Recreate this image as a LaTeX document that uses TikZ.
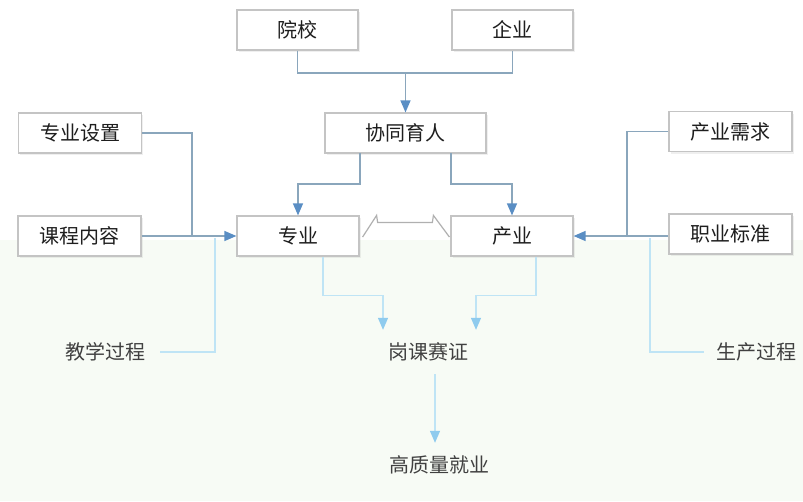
\documentclass[tikz,border=0pt]{standalone}
\usepackage{fontspec}
\newfontfamily\cjk{Noto Sans CJK SC}
\usetikzlibrary{arrows.meta,shadows}
\definecolor{boxc}{HTML}{C4C4C4}
\definecolor{linec}{HTML}{8AA6BC}
\definecolor{arrowc}{HTML}{5A8EC4}
\definecolor{lowc}{HTML}{BFE4F5}
\definecolor{lowarr}{HTML}{8FCBEE}
\definecolor{tint}{HTML}{F7FBF5}
\definecolor{txt}{HTML}{1E1E1E}
\begin{document}
\begin{tikzpicture}[x=1pt,y=-1pt,
  every node/.style={font=\cjk\fontsize{20}{24}\selectfont, text=txt, inner sep=0pt},
  box/.style={draw=boxc, fill=white, line width=1.2pt, minimum height=40pt,
    drop shadow={shadow xshift=1.5pt, shadow yshift=-2pt, opacity=0.12}},
  lbl/.style={minimum height=44pt, text=txt!85},
  conn/.style={draw=linec, line width=1.3pt},
  low/.style={draw=lowc, line width=1.3pt},
  arr/.style={-{Triangle[width=10pt,length=12pt,color=arrowc]}},
  larr/.style={-{Triangle[width=10pt,length=12pt,color=lowarr]}}
]
\useasboundingbox (0,0) rectangle (803,501);
\fill[white] (0,0) rectangle (803,501);
\fill[tint] (0,240) rectangle (803,501);

% boxes
\node[box, minimum width=121pt] (yx) at (297.5,30) {院校};
\node[box, minimum width=121pt] (qy) at (512.5,30) {企业};
\node[box, minimum width=161pt] (xt) at (405.5,133) {协同育人};
\node[box, minimum width=123pt] (zysz) at (80,133) {专业设置};
\node[box, minimum width=123pt] (kcnr) at (79.5,236) {课程内容};
\node[box, minimum width=122pt] (zy) at (298,236) {专业};
\node[box, minimum width=122pt] (cy) at (512,236) {产业};
\node[box, minimum width=123pt] (cyxq) at (730.5,131.5) {产业需求};
\node[box, minimum width=123pt] (zybz) at (730.5,234) {职业标准};

% plain labels
\node[lbl] (jxgc) at (105,352) {教学过程};
\node[lbl] (gksz) at (428,352) {岗课赛证};
\node[lbl] (scgc) at (756,352) {生产过程};
\node[lbl] (gzl) at (439,465) {高质量就业};

% coordinates
\coordinate (m1) at (405.5,73);
\coordinate (xl) at (360,153);
\coordinate (xr) at (451,153);
\coordinate (jl) at (192,236);
\coordinate (jv) at (215,238);
\coordinate (rl) at (627,236);
\coordinate (rv) at (650,238);

% top connectors
\draw[conn] (yx.south) |- (m1) -| (qy.south);
\draw[conn,arr] (m1) -- (xt.north);
\draw[conn,arr] (xl) -- ++(0,31) -| (zy.north);
\draw[conn,arr] (xr) -- ++(0,31) -| (cy.north);

% link between 专业 and 产业
\draw[draw=boxc!90!black, line width=1.2pt, line join=miter]
  ([xshift=3pt,yshift=-1pt]zy.east) -- ([xshift=17pt]zy.north east) -- ([xshift=18pt,yshift=-7pt]zy.north east)
  -- ([xshift=-18pt,yshift=-7pt]cy.north west) -- ([xshift=-17pt]cy.north west) -- ([xshift=-1pt,yshift=-1pt]cy.west);

% left inputs
\draw[conn] (zysz.east) -| (jl);
\draw[conn,arr] (kcnr.east) -- (zy.west);
\draw[low] ([xshift=15pt]jxgc.east) -| (jv);

% right inputs
\draw[conn] (cyxq.west) -| (rl);
\draw[conn,arr] (zybz.west |- cy.east) -- (cy.east);
\draw[low] ([xshift=-12pt]scgc.west) -| (rv);

% lower connectors
\draw[low,larr] ([xshift=25pt]zy.south) -- ++(0,39) -| ([xshift=-45pt]gksz.north);
\draw[low,larr] ([xshift=24pt]cy.south) -- ++(0,39) -| ([xshift=48pt]gksz.north);
\draw[low,larr] ([xshift=7pt]gksz.south) -- ([xshift=7pt]gksz.south |- gzl.north);
\end{tikzpicture}
\end{document}
